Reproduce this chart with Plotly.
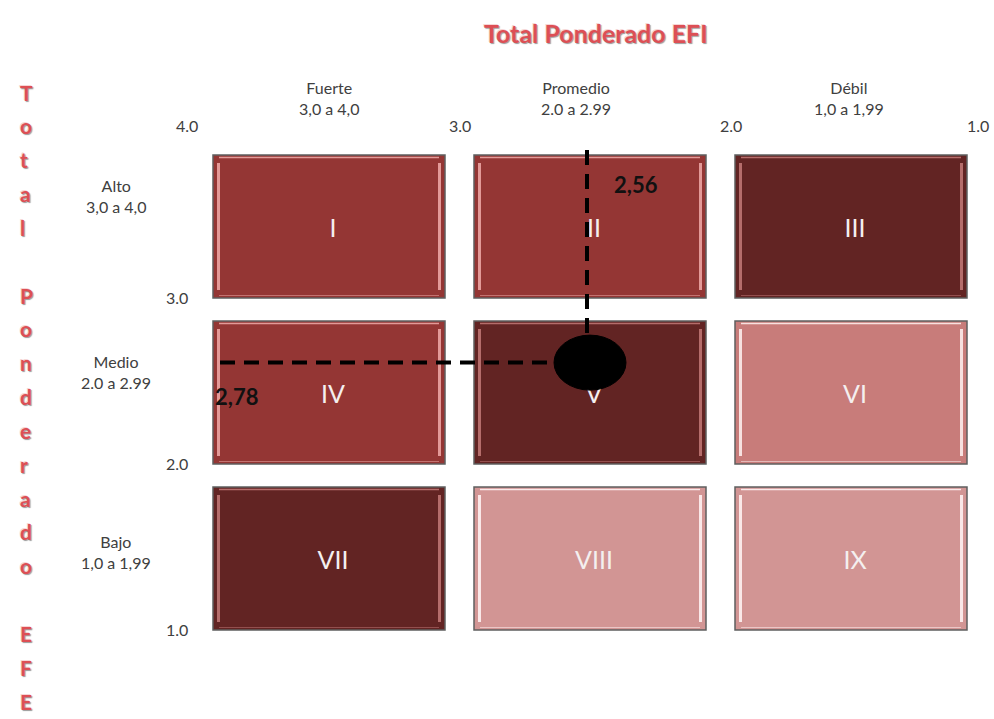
import plotly.graph_objects as go

# ---------------- data ----------------
col_names = ["Fuerte", "Promedio", "Débil"]
col_ranges = ["3,0 a 4,0", "2.0 a 2.99", "1,0 a 1,99"]
row_names = ["Alto", "Medio", "Bajo"]
row_ranges = ["3,0 a 4,0", "2.0 a 2.99", "1,0 a 1,99"]
x_tick_values = [4, 3, 2, 1]
x_tick_labels = ["4.0", "3.0", "2.0", "1.0"]
y_tick_values = [3, 2, 1]
y_tick_labels = ["3.0", "2.0", "1.0"]
cell_labels = [["I", "II", "III"], ["IV", "V", "VI"], ["VII", "VIII", "IX"]]
cell_shades = [["mid", "mid", "dark"], ["mid", "dark", "light"], ["dark", "light1", "light1"]]
efi_total = 2.50          # plotted position
efe_total = 2.68
efi_label = "2,56"
efe_label = "2,78"
title_efi = "Total Ponderado EFI"
title_efe = "Total Ponderado EFE"

# ---------------- geometry (pixel <-> data) ----------------
W, H = 994, 719
PX_X4, SX = 198.5, 261.0      # pixel of x=4, pixels per unit (reversed axis)
PY_Y3, SY = 309.5, 166.0      # pixel of y=3, pixels per unit


def dx(p):  # pixel -> data x
    return 4 - (p - PX_X4) / SX


def dy(p):  # pixel -> data y
    return 3 - (p - PY_Y3) / SY


def ux(n):
    return n / SX


def uy(n):
    return n / SY


fills = {"mid": "#943634", "dark": "#622423", "light": "#C87C7A", "light1": "#D29594"}
hi = {"mid": "#E39A98", "dark": "#B56D6B", "light": "#F7E1E0", "light1": "#FAE8E8"}
hx, hy = ux(14.5), uy(11.5)

shapes = []
for r in range(3):
    for c in range(3):
        shade = cell_shades[r][c]
        xl, xr = 4 - c - hx, 3 - c + hx     # reversed: left is larger value
        yt, yb = 4 - r - hy, 3 - r + hy
        shapes.append(dict(type="rect", xref="x", yref="y", x0=xl, x1=xr, y0=yb, y1=yt,
                           fillcolor=fills[shade], line=dict(color="#5f5f5f", width=1.5),
                           layer="below"))
        # bevel highlights
        shapes.append(dict(type="rect", xref="x", yref="y",
                           x0=xl - ux(4), x1=xl - ux(7), y0=yb + uy(8), y1=yt - uy(8),
                           fillcolor=hi[shade], line=dict(width=0), layer="below"))
        shapes.append(dict(type="rect", xref="x", yref="y",
                           x0=xr + ux(4), x1=xr + ux(7), y0=yb + uy(8), y1=yt - uy(8),
                           fillcolor=hi[shade], line=dict(width=0), layer="below"))
        shapes.append(dict(type="line", xref="x", yref="y",
                           x0=xl - ux(6), x1=xr + ux(6), y0=yt - uy(2.5), y1=yt - uy(2.5),
                           line=dict(color=hi[shade], width=1.5), layer="below"))
        shapes.append(dict(type="line", xref="x", yref="y",
                           x0=xl - ux(6), x1=xr + ux(6), y0=yb + uy(2.5), y1=yb + uy(2.5),
                           line=dict(color=hi[shade], width=1), opacity=0.6, layer="below"))

# dashed guide lines and the position ellipse
rx, ry = ux(36), uy(27.5)
shapes.append(dict(type="line", xref="x", yref="y", x0=efi_total + ux(3), x1=efi_total + ux(3),
                   y0=dy(150), y1=efe_total + ry, line=dict(color="black", width=4, dash="15px,9px"),
                   layer="above"))
shapes.append(dict(type="line", xref="x", yref="y", x0=dx(220), x1=efi_total + rx,
                   y0=efe_total, y1=efe_total, line=dict(color="black", width=4, dash="15px,9px"),
                   layer="above"))
shapes.append(dict(type="circle", xref="x", yref="y", x0=efi_total + rx, x1=efi_total - rx,
                   y0=efe_total - ry, y1=efe_total + ry, fillcolor="black",
                   line=dict(color="black", width=1), layer="above"))

fig = go.Figure()

# roman numerals as a text trace (so the ellipse/dashes can sit above them)
tx, ty, tt = [], [], []
for r in range(3):
    for c in range(3):
        tx.append(3.5 - c - ux(4))
        ty.append(3.5 - r - uy(4))
        tt.append(cell_labels[r][c])
fig.add_trace(go.Scatter(x=tx, y=ty, text=tt, mode="text", hoverinfo="skip",
                         textfont=dict(family="Lato, sans-serif", size=25, color="#F4EFEF"),
                         showlegend=False))

GRAY = "#404040"
FONT = "Lato, sans-serif"
LBL = 16
ann = []
# column headers
col_shift = [0, -14, -2]
for c in range(3):
    ann.append(dict(x=3.5 - c, y=dy(98), xref="x", yref="y", xshift=col_shift[c],
                    text=col_names[c] + "<br>" + col_ranges[c], showarrow=False,
                    font=dict(family=FONT, size=LBL, color=GRAY), align="center"))
# x scale labels
xs_shift = [-12, 0, 10, -4]
for v, lab, s in zip(x_tick_values, x_tick_labels, xs_shift):
    ann.append(dict(x=v, y=dy(125), xref="x", yref="y", xshift=s, text=lab, showarrow=False,
                    font=dict(family=FONT, size=LBL, color=GRAY)))
# row headers
row_py = [196, 372, 552]
for r in range(3):
    ann.append(dict(x=dx(116), y=dy(row_py[r]), xref="x", yref="y",
                    text=row_names[r] + "<br>" + row_ranges[r], showarrow=False,
                    font=dict(family=FONT, size=LBL, color=GRAY), align="center"))
# y scale labels
for v, lab in zip(y_tick_values, y_tick_labels):
    ann.append(dict(x=dx(177), y=v, xref="x", yref="y", yshift=12, text=lab, showarrow=False,
                    font=dict(family=FONT, size=LBL, color=GRAY)))
# value labels
ann.append(dict(x=dx(636), y=dy(184), xref="x", yref="y", text="<b>" + efi_label + "</b>",
                showarrow=False, font=dict(family=FONT, size=22, color="#111111")))
ann.append(dict(x=dx(236), y=dy(396), xref="x", yref="y", text="<b>" + efe_label + "</b>",
                showarrow=False, font=dict(family=FONT, size=22, color="#111111")))

RED = "#DD4F55"
SHADOW = "1px 1px 1px #9a9a9a, -1px -1px 0px #f6d6d6"
# top title
ann.append(dict(x=596 / W, y=1 - 33 / H, xref="paper", yref="paper", yanchor="middle",
                text="<b>" + title_efi + "</b>", showarrow=False,
                font=dict(family="Lato, sans-serif", size=25, color=RED, shadow=SHADOW)))
# vertical stacked title (one blank line between words)
letters = []
for i, word in enumerate(title_efe.split(" ")):
    if i:
        letters += [""]
    letters += list(word)
step = (701 - 92) / (len(letters) - 1)
for i, ch in enumerate(letters):
    if ch:
        ann.append(dict(x=18 / W, y=1 - (92 + i * step) / H, xref="paper", yref="paper",
                        yanchor="middle", text="<b>" + ch + "</b>", showarrow=False,
                        font=dict(family="Lato, sans-serif", size=21, color=RED, shadow=SHADOW)))

fig.update_layout(
    width=W, height=H, margin=dict(l=0, r=0, t=0, b=0),
    paper_bgcolor="white", plot_bgcolor="white",
    xaxis=dict(range=[dx(0), dx(W)], visible=False, fixedrange=True),
    yaxis=dict(range=[dy(H), dy(0)], visible=False, fixedrange=True),
    shapes=shapes, annotations=ann, showlegend=False,
)
fig.write_html("out.html")
